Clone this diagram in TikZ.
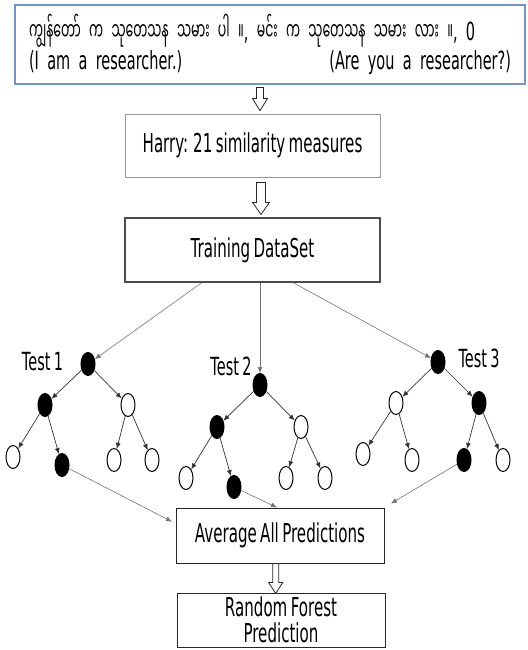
\documentclass[tikz,border=0pt]{standalone}
\usepackage{fontspec}
\setmainfont{DejaVu Sans}[FakeStretch=0.58,WordSpace=0.7]
\newfontfamily\myanfont[Script=Myanmar,FakeStretch=0.5]{Noto Sans Myanmar UI}
\usetikzlibrary{arrows.meta,shapes.geometric}
\definecolor{boxblue}{HTML}{7393C9}
\tikzset{
  box/.style={draw,rectangle,inner sep=0pt,font=\fontsize{26}{23}\selectfont},
  hollow/.style={draw=black!85,fill=white,line width=0.8pt,line join=miter},
  feed/.style={draw=black!55,line width=0.6pt,-{Latex[length=6pt,width=5pt]}},
  split/.style={draw=black!80,line width=0.7pt,-{Latex[length=6pt,width=5pt]}},
  darknode/.style={ellipse,draw,fill=black,minimum width=14pt,minimum height=23pt,
    inner sep=0pt,line width=1pt},
  lightnode/.style={darknode,fill=white},
  label/.style={anchor=base,font=\fontsize{25}{23}\selectfont},
}
% block arrow hanging below a node:
% anchor, x offset, gap, length, half shaft, half head, head length
\newcommand\hollowdown[7]{%
  \draw[hollow] ([xshift=#2pt-#5pt,yshift=-#3pt]#1) -- ++(0,#4-#7) -- ++(#5-#6,0)
    -- ++(#6,#7) -- ++(#6,-#7) -- ++(#5-#6,0) -- ++(0,#7-#4) -- cycle;}
\begin{document}
\begin{tikzpicture}[x=1pt,y=-1pt]
  \useasboundingbox (0,0) rectangle (527,650);
  % input sentence pair and the boxes below it
  \node[box,draw=boxblue,line width=1.2pt,minimum width=510pt,minimum height=79pt,
    text width=482pt,align=left,font=\fontsize{25}{29}\selectfont] (pair) at (270,44.5)
    {{\myanfont ကျွန်တော် က သုတေသန သမား ပါ ။}, {\myanfont မင်း က သုတေသန သမား လား ။}, 0\\
     (I am a researcher.)\hfill(Are you a researcher?)};
  \node[box,draw=black!40,line width=0.8pt,minimum width=255pt,minimum height=63pt]
    (harry) at (252.5,145.5) {Harry: 21 similarity measures};
  \node[box,draw=black!70,line width=1.1pt,minimum width=255pt,minimum height=64pt]
    (train) at (252.5,250) {Training DataSet};
  \node[box,draw=black!85,line width=1pt,minimum width=208pt,minimum height=55pt]
    (avg) at (280,535.5) {Average All Predictions};
  \node[box,draw=black!85,line width=1pt,minimum width=208pt,minimum height=54pt,
    align=center,font=\fontsize{26}{26}\selectfont] (forest) at (281,620)
    {Random Forest\\Prediction};

  \hollowdown{pair.south}{-10}{3}{23}{3.5}{7.5}{12}
  \hollowdown{harry.south}{8.5}{5}{32}{4.5}{8.5}{12}
  \hollowdown{avg.south}{-4.3}{0}{30}{3}{7}{11}

  % tree 1
  \node[darknode]  (t1)   at (88,364) {};
  \node[darknode]  (t1a)  at (45,405) {};
  \node[lightnode] (t1b)  at (128,405) {};
  \node[lightnode] (t1aa) at (13,457) {};
  \node[darknode]  (t1ab) at (62,465) {};
  \node[lightnode] (t1ba) at (114,460) {};
  \node[lightnode] (t1bb) at (152,460) {};
  \node[label] (lab1) at (42.5,370) {Test 1};

  % tree 2
  \node[darknode]  (t2)   at (260,385) {};
  \node[darknode]  (t2a)  at (217,427) {};
  \node[lightnode] (t2b)  at (301,427) {};
  \node[lightnode] (t2aa) at (186,478) {};
  \node[darknode]  (t2ab) at (234,487) {};
  \node[lightnode] (t2ba) at (286,478) {};
  \node[lightnode] (t2bb) at (325,478) {};
  \node[label] (lab2) at (231,375) {Test 2};

  % tree 3
  \node[darknode]  (t3)   at (438,362) {};
  \node[lightnode] (t3a)  at (396,403) {};
  \node[darknode]  (t3b)  at (479,403) {};
  \node[lightnode] (t3aa) at (363,454) {};
  \node[lightnode] (t3ab) at (412,460) {};
  \node[darknode]  (t3ba) at (464,460) {};
  \node[lightnode] (t3bb) at (503,460) {};
  \node[label] (lab3) at (479,367) {Test 3};

  \foreach \t in {t1,t2,t3}
    \foreach \p/\c in {/a,/b,a/aa,a/ab,b/ba,b/bb}
      \draw[split] (\t\p) -- (\t\c);

  % data set fed to each tree
  \draw[feed] ([xshift=-50.5pt]train.south) -- (t1);
  \draw[feed] ([xshift=7.5pt]train.south) -- (t2);
  \draw[feed] ([xshift=40.5pt]train.south) -- (t3);

  % tree outputs collected
  \draw[feed,shorten >=4pt] (t1ab) -- ([yshift=12pt]avg.west);
  \draw[feed] (t2ab) -- ([xshift=-3pt]avg.north);
  \draw[feed,shorten >=4pt] (t3ba) -- ([xshift=3pt,yshift=2pt]avg.north east);
\end{tikzpicture}
\end{document}
